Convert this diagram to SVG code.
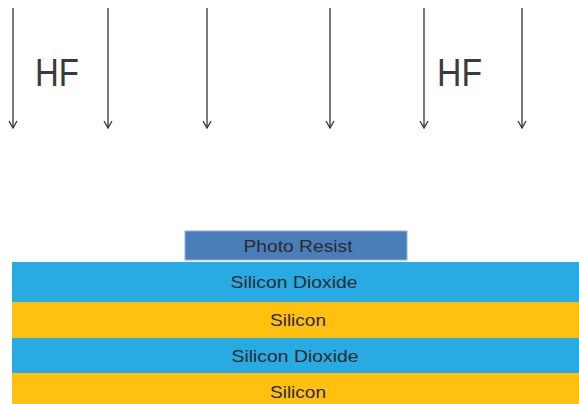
<svg xmlns="http://www.w3.org/2000/svg" width="579" height="404" viewBox="0 0 579 404">
<style>
.arr{stroke:#333;stroke-width:1.3;fill:none}
.hf{font-family:"Liberation Sans",Arial,sans-serif;font-size:38px;fill:#3a3a3a}
.lt{font-family:"Liberation Sans",Arial,sans-serif;font-size:17px;fill:#2a2a2a;text-anchor:middle}
.sio2{fill:#27abe2}
.si{fill:#ffc010}
</style>
<defs>
<marker id="ah" viewBox="0 0 10 10" refX="9" refY="5" markerWidth="10" markerHeight="10" markerUnits="userSpaceOnUse" orient="auto">
<path d="M2,1 L9,5 L2,9" stroke="#333" stroke-width="1.3" fill="none"/>
</marker>
</defs>
<rect width="579" height="404" fill="#fff"/>
<g id="connectors">
<line class="arr" x1="13" y1="8" x2="13" y2="128" marker-end="url(#ah)"/>
<line class="arr" x1="108" y1="8" x2="108" y2="128" marker-end="url(#ah)"/>
<line class="arr" x1="207" y1="8" x2="207" y2="128" marker-end="url(#ah)"/>
<line class="arr" x1="330" y1="8" x2="330" y2="128" marker-end="url(#ah)"/>
<line class="arr" x1="424" y1="8" x2="424" y2="128" marker-end="url(#ah)"/>
<line class="arr" x1="522" y1="8" x2="522" y2="128" marker-end="url(#ah)"/>
</g>
<g id="hf-left"><text class="hf" x="35" y="86" textLength="44" lengthAdjust="spacingAndGlyphs">HF</text></g>
<g id="hf-right"><text class="hf" x="437" y="86" textLength="45" lengthAdjust="spacingAndGlyphs">HF</text></g>
<g id="photo-resist">
<rect x="185" y="231" width="222" height="29" fill="#4a7ebb" stroke="#8fb0d8" stroke-width="1"/>
<text class="lt" x="298" y="251.5" font-size="16" textLength="109" lengthAdjust="spacingAndGlyphs">Photo Resist</text>
</g>
<g id="sio2-1">
<rect class="sio2" x="12" y="262" width="567" height="40"/>
<text class="lt" x="294" y="288" textLength="127" lengthAdjust="spacingAndGlyphs">Silicon Dioxide</text>
</g>
<g id="si-1">
<rect class="si" x="12" y="302" width="567" height="36"/>
<text class="lt" x="298" y="326" textLength="56" lengthAdjust="spacingAndGlyphs">Silicon</text>
</g>
<g id="sio2-2">
<rect class="sio2" x="12" y="338" width="567" height="35"/>
<text class="lt" x="295" y="362" textLength="127" lengthAdjust="spacingAndGlyphs">Silicon Dioxide</text>
</g>
<g id="si-2">
<rect class="si" x="12" y="373" width="567" height="31"/>
<text class="lt" x="298" y="398" textLength="56" lengthAdjust="spacingAndGlyphs">Silicon</text>
</g>
</svg>
